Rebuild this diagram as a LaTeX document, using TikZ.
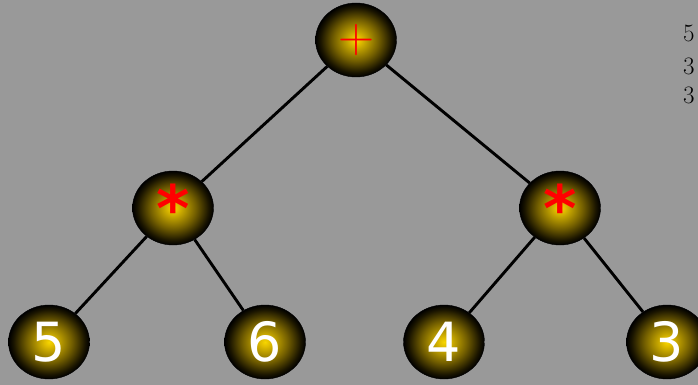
\documentclass[tikz,border=0pt]{standalone}
\usepackage{fontspec}
\newfontfamily\dejavu{DejaVu Sans}
\usetikzlibrary{shapes.geometric}
\pgfdeclareradialshading{nodeball}{\pgfpoint{0bp}{0bp}}{%
  color(0bp)=(rgb,1:red,0.97;green,0.84;blue,0.0);
  color(3bp)=(rgb,1:red,0.88;green,0.74;blue,0.0);
  color(14bp)=(rgb,1:red,0.45;green,0.37;blue,0.0);
  color(22bp)=(rgb,1:red,0.10;green,0.08;blue,0.0);
  color(25bp)=(black);
  color(50bp)=(black)}
\definecolor{bggray}{RGB}{153,153,153}
\tikzset{
  ballnode/.style={ellipse, minimum width=81pt, minimum height=74pt, inner sep=0pt,
    shading=nodeball, draw=black, line width=0.4pt},
  leafnode/.style={ballnode, text=white, font=\dejavu\fontsize{54}{54}\selectfont},
  opnode/.style={ballnode, text=red},
  edge/.style={draw=black, line width=2.9pt},
  sidetext/.style={anchor=base west, inner sep=0pt, font=\fontsize{25}{25}\selectfont}
}
\begin{document}
\begin{tikzpicture}[x=1pt,y=-1pt]
\useasboundingbox (0,0) rectangle (698,385);
\clip (0,0) rectangle (698,385);
\fill[bggray] (0,0) rectangle (698,385);
\node[opnode, font=\rmfamily\fontsize{50}{50}\selectfont] (root) at (356,40) {+};
\node[opnode, font=\dejavu\bfseries\fontsize{64}{64}\selectfont] (l) at (173,208) {\raisebox{-0.36em}{*}};
\node[opnode, font=\dejavu\bfseries\fontsize{64}{64}\selectfont] (r) at (560,208) {\raisebox{-0.36em}{*}};
\node[leafnode] (a) at (49,342) {5};
\node[leafnode] (b) at (265,342) {6};
\node[leafnode] (c) at (444,342) {4};
\node[leafnode] (d) at (667,342) {3};
\path[edge] (root) -- (l);
\path[edge] (root) -- (r);
\path[edge] (l) -- (a);
\path[edge] (l) -- (b);
\path[edge] (r) -- (c);
\path[edge] (r) -- (d);
\node[sidetext] (t1) at (683,42) {5};
\node[sidetext] (t2) at (683,75) {3};
\node[sidetext] (t3) at (683,104) {3};
\end{tikzpicture}
\end{document}
